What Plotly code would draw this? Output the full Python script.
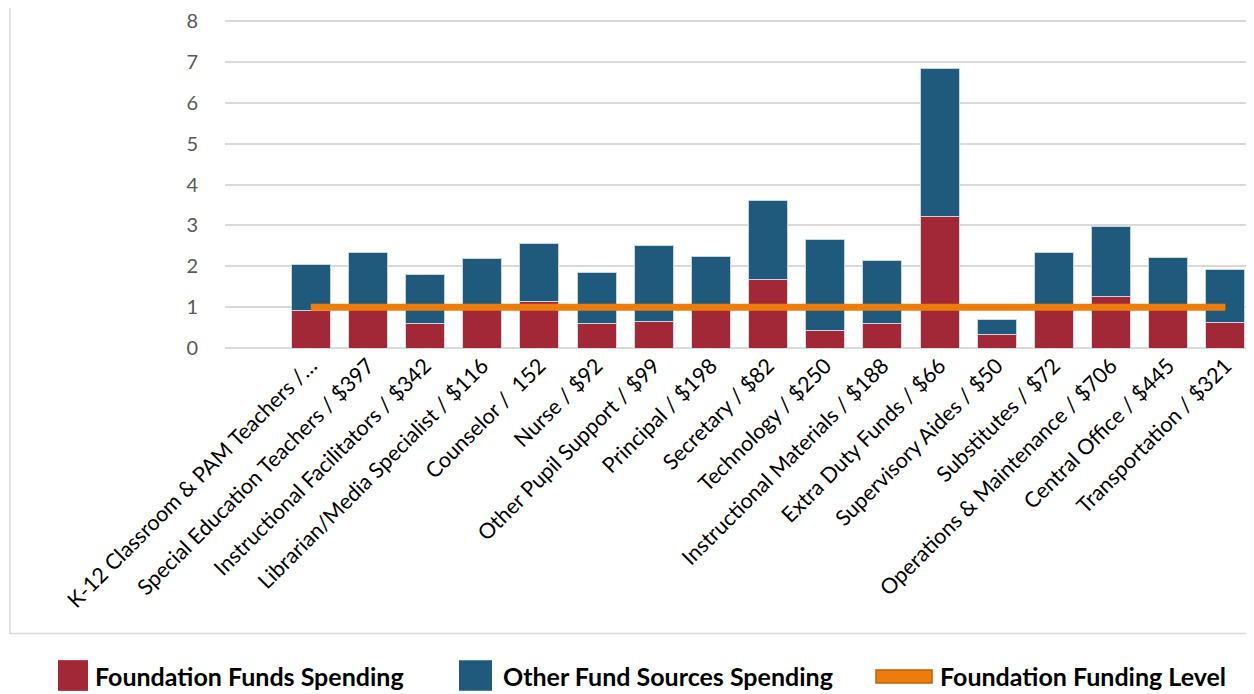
import plotly.graph_objects as go

# Categories and values
categories = [
    "K-12 Classroom & PAM Teachers /…",
    "Special Education Teachers / $397",
    "Instructional Facilitators / $342",
    "Librarian/Media Specialist / $116",
    "Counselor /  152",
    "Nurse / $92",
    "Other Pupil Support / $99",
    "Principal / $198",
    "Secretary / $82",
    "Technology / $250",
    "Instructional Materials / $188",
    "Extra Duty Funds / $66",
    "Supervisory Aides / $50",
    "Substitutes / $72",
    "Operations & Maintenance / $706",
    "Central Office / $445",
    "Transportation / $321",
]
foundation_spending = [0.91, 1.00, 0.59, 1.00, 1.13, 0.59, 0.65, 1.00, 1.68,
                       0.44, 0.59, 3.23, 0.32, 1.00, 1.27, 1.00, 0.63]
other_spending = [1.14, 1.34, 1.20, 1.20, 1.42, 1.25, 1.87, 1.23, 1.94,
                  2.21, 1.56, 3.62, 0.38, 1.33, 1.71, 1.21, 1.28]
funding_level = [1] * len(categories)

RED = "#A22838"
BLUE = "#1F5A7D"
ORANGE = "#EC7D0D"
FONT = "Lato, 'Open Sans', sans-serif"

# page has an 8px body margin, so the figure is shrunk by that much
OFF = 8
W, H = 1254 - OFF, 694 - OFF
L, T, B = 217, 9, 346


def px_x(p):
    return (p - OFF - L) / (W - L)


def px_y(p):
    return (H - B - (p - OFF)) / (H - B - T)


fig = go.Figure()
fig.add_trace(go.Bar(
    x=categories, y=foundation_spending, name="Foundation Funds Spending",
    marker=dict(color=RED, line=dict(color="#D5D9DE", width=1)),
))
fig.add_trace(go.Bar(
    x=categories, y=other_spending, name="Other Fund Sources Spending",
    marker=dict(color=BLUE, line=dict(color="#C9D5DF", width=1)),
))
fig.add_trace(go.Scatter(
    x=categories, y=funding_level, name="Foundation Funding Level",
    mode="lines", line=dict(color=ORANGE, width=7),
))

fig.update_layout(
    width=W, height=H,
    margin=dict(l=L, r=0, t=T, b=B),
    barmode="stack",
    bargap=0.32,
    showlegend=False,
    plot_bgcolor="white",
    paper_bgcolor="white",
    font=dict(family=FONT),
    xaxis=dict(
        type="category",
        range=[-1.5, 16.5],
        tickangle=-45,
        tickfont=dict(size=21.5, color="#000000", family=FONT),
        showgrid=False,
        showline=False,
        ticks="",
    ),
    yaxis=dict(
        range=[0, 8.03],
        dtick=1,
        tickfont=dict(size=20, color="#595959", family=FONT),
        gridcolor="#D9D9D9",
        gridwidth=2,
        zeroline=True,
        zerolinecolor="#D9D9D9",
        zerolinewidth=2,
        showline=False,
        ticklabelstandoff=26,
        ticklabeloverflow="allow",
    ),
)

# chart area border
fig.add_shape(type="rect", xref="paper", yref="paper",
              x0=px_x(10), x1=1.05, y0=px_y(636), y1=1.3,
              line=dict(color="#D9D9D9", width=1.5), layer="below")

# legend drawn below the chart box
legend_items = [
    ("Foundation Funds Spending", RED, None, 58, 88, 663, 694, 93),
    ("Other Fund Sources Spending", BLUE, None, 459, 492, 663, 694, 501),
    ("Foundation Funding Level", ORANGE, "#C0600A", 876, 932, 673, 686, 938),
]
for text, fill, edge, x0, x1, y0, y1, tx in legend_items:
    fig.add_shape(type="rect", xref="paper", yref="paper",
                  x0=px_x(x0), x1=px_x(x1), y0=px_y(y1), y1=px_y(y0),
                  fillcolor=fill,
                  line=dict(color=edge or fill, width=1.5 if edge else 0))
    fig.add_annotation(text=f"<b>{text}</b>", xref="paper", yref="paper",
                       x=px_x(tx), y=px_y(679), xanchor="left", yanchor="middle",
                       showarrow=False,
                       font=dict(size=25, color="#000000", family=FONT))

fig.write_html("out.html")
